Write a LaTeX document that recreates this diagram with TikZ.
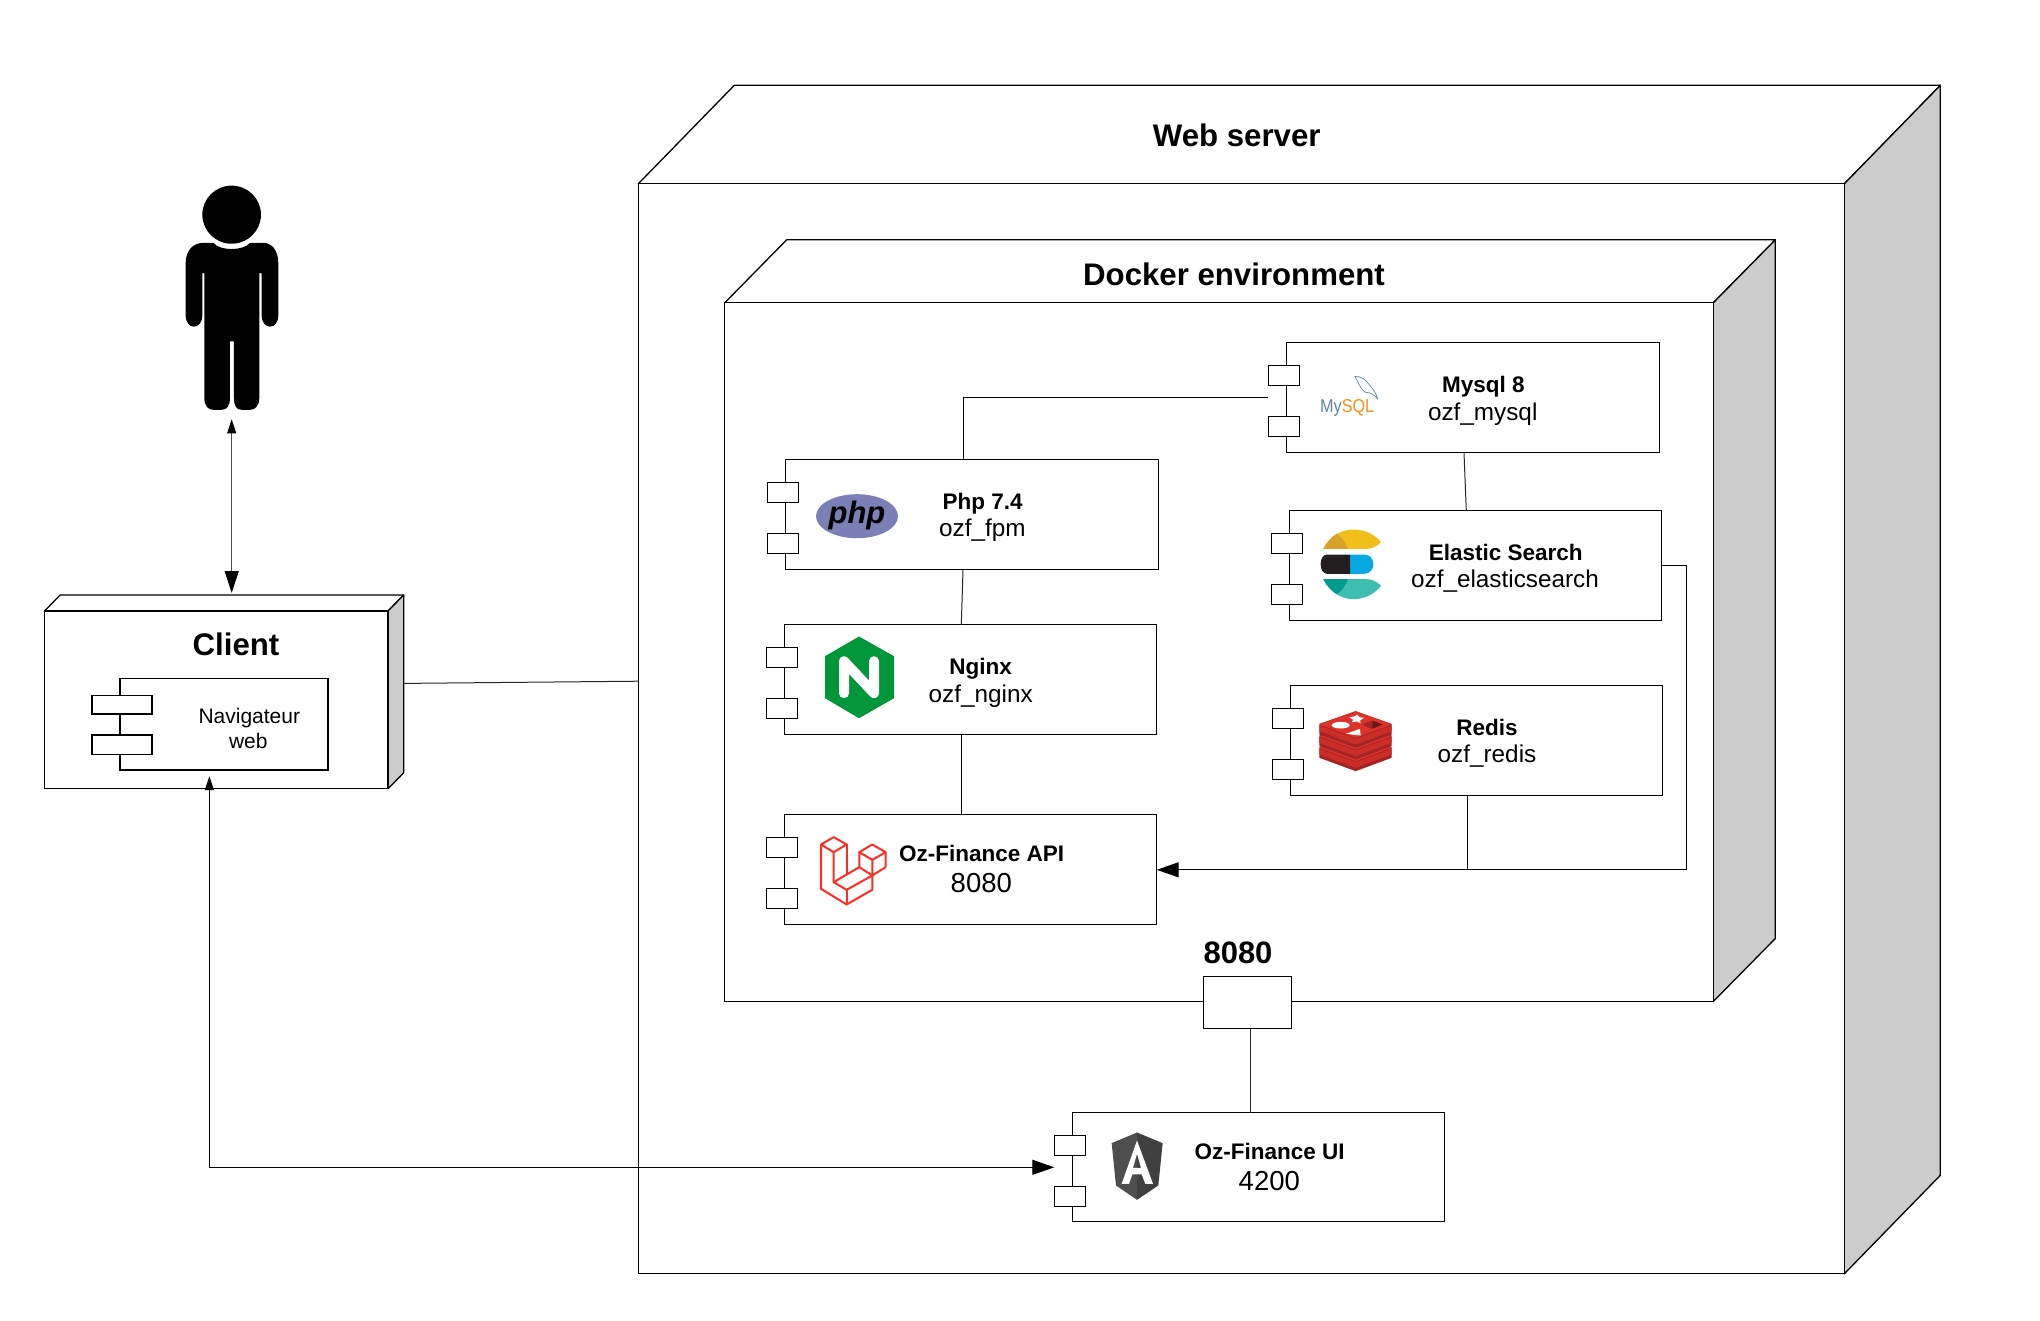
\documentclass[tikz,border=0pt]{standalone}
\usepackage{graphicx}
\usepackage{fontspec}
\setmainfont{Liberation Sans}
\usetikzlibrary{arrows.meta,calc}
\definecolor{sidegray}{HTML}{CCCCCC}
\definecolor{phpblue}{HTML}{7A80B5}
\definecolor{mysqlblue}{HTML}{5D87A1}
\definecolor{mysqlorange}{HTML}{F29111}
\definecolor{elyellow}{HTML}{F0BF1A}
\definecolor{eldyellow}{HTML}{D7A229}
\definecolor{elblack}{HTML}{231F20}
\definecolor{elblue}{HTML}{07A9E0}
\definecolor{elteal}{HTML}{3EBEB0}
\definecolor{eldteal}{HTML}{019B8F}
\definecolor{nginxgreen}{HTML}{009639}
\definecolor{laravelred}{HTML}{FF2D20}
\definecolor{redistop}{HTML}{DC3229}
\definecolor{redisdark}{HTML}{A32422}
\definecolor{angularl}{HTML}{4E4E4E}
\definecolor{angularr}{HTML}{404040}
\tikzset{
  lw/.style={line width=1.3pt},
  solidbox/.style={draw,lw,fill=white,inner sep=0pt,outer sep=0pt},
  face/.style={draw,lw,fill=white,line join=round},
  sideface/.style={draw,lw,fill=sidegray,line join=round},
  portbox/.style={solidbox,minimum width=31.4pt,minimum height=20pt},
  wire/.style={draw,lw},
  thinwire/.style={draw,line width=1pt,black!85},
  bigtip/.style={-{Triangle[length=22pt,width=15pt]}},
  txt/.style={anchor=base,inner sep=0pt,outer sep=0pt,text=black,yshift=0.3pt},
  title/.style={txt,font=\fontsize{31.2}{31}\selectfont\bfseries},
  cname/.style={txt,font=\fontsize{22.5}{24}\selectfont\bfseries},
  csub/.style={txt,font=\fontsize{24.3}{26}\selectfont},
  cport/.style={txt,font=\fontsize{27.5}{28}\selectfont},
  navtxt/.style={txt,font=\fontsize{21}{22}\selectfont},
  zoomframe/.style={shift={(#1)},x=0.3333pt,y=-0.3333pt},
  personframe/.style={shift={(#1)},x=0.3333pt,y=-0.4336pt}
}
% name, left, top, right, bottom, dx, dy
\newcommand\deployment[7]{%
  \fill[white] (#2,#3) -- ++(#6,-#7) -- (#4+#6,#3-#7) -- (#4+#6,#5-#7) -- (#4,#5) -- (#2,#5) -- cycle;
  \path[face] (#2,#3) -- (#2+#6,#3-#7) -- (#4+#6,#3-#7) -- (#4,#3) -- cycle;
  \path[sideface] (#4,#3) -- (#4+#6,#3-#7) -- (#4+#6,#5-#7) -- (#4,#5) -- cycle;
  \node[solidbox,minimum width={(#4-#2)*1pt},minimum height={(#5-#3)*1pt}] (#1) at ({(#2+#4)/2},{(#3+#5)/2}) {};
}
% name, left, top, right, bottom
\newcommand\component[5]{%
  \node[solidbox,minimum width={(#4-#2)*1pt},minimum height={(#5-#3)*1pt}] (#1) at ({(#2+#4)/2},{(#3+#5)/2}) {};
  \node[portbox] (#1pa) at ({#2-2.3},{#3+33}) {};
  \node[portbox] (#1pb) at ({#2-2.3},{#3+84}) {};
}
\begin{document}
\begin{tikzpicture}[x=1pt,y=-1pt]
\useasboundingbox (0,0) rectangle (2040,1320);
\fill[white] (0,0) rectangle (2040,1320);
\begin{scope}[shift={(0,0.5)}]

% deployment nodes
\deployment{web}{638.3}{183.3}{1844.3}{1273.3}{96}{98.5}
\deployment{docker}{724.7}{302.3}{1713.3}{1001}{62}{63}
\deployment{client}{44.5}{610.5}{388}{788.3}{15.7}{16}
\node[title] (webtitle) at (1236.7,146) {Web server};
\node[title] (dockertitle) at (1234,285.7) {Docker environment};
\node[title] (clienttitle) at (236,655.1) {Client};

% person
\begin{scope}[personframe={0,150}]
  \fill[black] (695,148) ellipse [x radius=88,y radius=67];
  \fill[black] (557,260) .. controls (557,230) and (580,213) .. (610,213) -- (640,213)
    .. controls (660,232) and (730,232) .. (750,213) -- (790,213)
    .. controls (815,213) and (835,230) .. (835,260) -- (835,380)
    .. controls (835,415) and (785,415) .. (785,380) -- (785,283) -- (778,283) -- (778,570)
    .. controls (778,590) and (765,598) .. (750,598) -- (725,598)
    .. controls (710,598) and (702,590) .. (702,570) -- (702,440) -- (690,440) -- (690,570)
    .. controls (690,590) and (680,598) .. (665,598) -- (640,598)
    .. controls (625,598) and (613,590) .. (613,570) -- (613,283) -- (607,283) -- (607,380)
    .. controls (607,415) and (557,415) .. (557,380) -- cycle;
\end{scope}
\coordinate (personfoot) at (231.7,418.8);

% navigateur component
\node[solidbox,line width=1.6pt,minimum width=207.7pt,minimum height=91.1pt] (navi) at (223.85,723.65) {};
\node[solidbox,line width=1.6pt,minimum width=59.7pt,minimum height=18.7pt] (navipa) at (121.85,704.35) {};
\node[solidbox,line width=1.6pt,minimum width=59.7pt,minimum height=19.5pt] (navipb) at (121.85,744.25) {};
\node[navtxt] (navione) at (249.3,723.2) {Navigateur};
\node[navtxt] (navitwo) at (248.3,748.4) {web};

% components
\component{php}{785.3}{459.3}{1158.3}{569.3}
\component{mysql}{1286.3}{342.3}{1659.3}{452.3}
\component{elastic}{1289.3}{510.3}{1661.7}{620.3}
\component{nginx}{784.3}{624.3}{1156.7}{734.3}
\component{api}{784.3}{814.3}{1156.7}{924.3}
\component{redis}{1290.3}{685.3}{1662.7}{795.3}
\component{ui}{1072.3}{1112.3}{1444.7}{1221.3}
\node[solidbox,minimum width=88pt,minimum height=52pt] (dockerport) at (1247.3,1002.3) {};
\node[txt,font=\fontsize{31}{31}\selectfont\bfseries] (dockerportlabel) at (1238,963.6) {8080};

% connectors
\path[wire] ([xshift=-8.5pt]php.north) |- (mysql.center -| mysqlpa.west);
\path[thinwire] ([xshift=-8.8pt]php.south) -- ([xshift=-9.2pt]nginx.north);
\path[wire] ([xshift=-9.2pt]nginx.south) -- ([xshift=-9.2pt]api.north);
\path[thinwire] ([xshift=-8.8pt]mysql.south) -- ([xshift=-9.2pt]elastic.north);
\coordinate (turn) at (1686.3,869.3);
\path[wire,bigtip] (elastic.east) -| (turn) -- (api.east);
\path[wire] ([xshift=-9.2pt]redis.south) -- ([xshift=-9.2pt]redis.south |- turn);
\path[thinwire] ([xshift=2.7pt]dockerport.south) -- ([xshift=-8.5pt]ui.north);
\coordinate (clientside) at (403.7,682.9);
\path[thinwire] (clientside) -- ([yshift=47.6pt]web.west);
\coordinate (clientroof) at (231.7,592.3);
\path[draw,line width=.9pt,black!70,{Triangle[length=14pt,width=9pt,black]}-{Triangle[length=21.7pt,width=14pt,black]}] (personfoot) -- (clientroof);
\path[wire,{Triangle[length=14pt,width=9pt]}-{Triangle[length=22pt,width=15pt]}]
  ([xshift=-14.5pt,yshift=-6.5pt]navi.south) |- (ui.center -| uipa.west);

% php
\fill[phpblue] (857,515.7) ellipse [x radius=41,y radius=22];
\node[anchor=center,inner sep=0pt,font=\fontsize{31}{31}\selectfont\bfseries\itshape] (phplogo) at (857,514.5) {php};
\node[cname] (phpname) at (982.7,509) {Php 7.4};
\node[csub] (phpsub) at (982.3,536.7) {ozf\_fpm};

% mysql
\node[anchor=base west,inner sep=0pt,font=\fontsize{18.6}{18}\selectfont] (mysqllogo) at (1320,411.7) {\scalebox{.87}[1]{\textcolor{mysqlblue}{My}\textcolor{mysqlorange}{SQL}}};
\draw[mysqlblue,line width=.7pt,line join=round] (1355,376) .. controls (1360,375) and (1367,380) .. (1369,384)
  .. controls (1373,388) and (1376,393) .. (1377.7,398.3) .. controls (1374,394) and (1371,392) .. (1365,391.7)
  .. controls (1360,388) and (1358,381) .. (1355,376) -- cycle;
\node[cname] (mysqlname) at (1483.3,392.7) {Mysql 8};
\node[csub] (mysqlsub) at (1482.7,420) {ozf\_mysql};

% elastic
\fill[elyellow] (1323.3,548.3) .. controls (1330,535) and (1342,529) .. (1353.3,529) .. controls (1366,529) and (1376,535) .. (1381,541.7) .. controls (1377,546) and (1372,548.3) .. (1367,548.3) -- cycle;
\fill[eldyellow] (1323.3,548.3) .. controls (1327,541) and (1332,536) .. (1336.7,533.3) .. controls (1342,537) and (1346,542) .. (1347.7,548.3) -- cycle;
\fill[elteal] (1323.3,578.7) .. controls (1330,592) and (1342,598.7) .. (1353.3,598.7) .. controls (1366,598.7) and (1376,592) .. (1381,585.3) .. controls (1377,581) and (1372,578.7) .. (1367,578.7) -- cycle;
\fill[eldteal] (1323.3,578.7) .. controls (1327,586) and (1332,591) .. (1336.7,593.7) .. controls (1342,590) and (1346,585) .. (1347.7,578.7) -- cycle;
\fill[elblue] (1350,554) -- (1364,554) .. controls (1376.5,554) and (1376.5,573.3) .. (1364,573.3) -- (1350,573.3) -- cycle;
\fill[elblack] (1350,554) -- (1327,554) .. controls (1318.5,554) and (1318.5,573.3) .. (1327,573.3) -- (1350,573.3) -- cycle;
\node[cname] (elasticname) at (1505.7,560.7) {Elastic Search};
\node[csub] (elasticsub) at (1505,587.7) {ozf\_elasticsearch};

% nginx
\fill[nginxgreen] (859,636) -- (894,655.7) -- (894,697.7) -- (859,717.7) -- (825,697.7) -- (825,655.7) -- cycle;
\draw[white,line width=10pt,line cap=round,line join=round] (844,692.7) -- (844,660.7) -- (874,692.7) -- (874,660.7);
\node[cname] (nginxname) at (980.7,674) {Nginx};
\node[csub] (nginxsub) at (980.7,702) {ozf\_nginx};

% laravel
\begin{scope}[zoomframe={740,620},draw=laravelred,line width=2pt,line join=round]
  \draw (243,672) -- (281,650) -- (320,672) -- (281,695) -- cycle;
  \draw (243,672) -- (243,805) -- (320,852) -- (397,808) -- (397,765);
  \draw (281,695) -- (281,785) -- (320,808) -- (397,765);
  \draw (320,672) -- (320,762);
  \draw (281,785) -- (358,740);
  \draw (358,695) -- (397,672) -- (437,695) -- (397,718) -- cycle;
  \draw (358,695) -- (358,740) -- (397,765);
  \draw (397,718) -- (397,765) -- (437,740) -- (437,695);
  \draw (320,808) -- (320,852);
\end{scope}
\node[cname] (apiname) at (981.7,861.7) {Oz-Finance API};
\node[cport] (apiport) at (981.3,892.3) {8080};

% redis
\begin{scope}[zoomframe={1240,660}]
  \foreach \d in {70,35,0} {
    \fill[redisdark] (238,{190+\d}) -- (347,{152+\d}) -- (455,{190+\d}) -- (455,{222+\d}) -- (347,{262+\d}) -- (238,{222+\d}) -- cycle;
    \fill[redistop!92!black] (238,{195+\d}) -- (347,{235+\d}) -- (455,{195+\d}) -- (455,{212+\d}) -- (347,{252+\d}) -- (238,{212+\d}) -- cycle;
    \fill[redistop] (238,{192+\d}) -- (347,{152+\d}) -- (455,{192+\d}) -- (347,{232+\d}) -- cycle;
  }
  \fill[white] (302,194) ellipse [x radius=27,y radius=10];
  \fill[white] (352,162) -- (358,170) -- (372,172) -- (360,180) -- (362,188) -- (350,183) -- (335,185) -- (340,178) -- (328,170) -- (343,168) -- cycle;
  \fill[white] (318,220) -- (360,205) -- (362,225) -- cycle;
  \fill[redisdark] (365,192) -- (397,180) -- (397,205) -- cycle;
  \fill[redisdark!65!black] (397,180) -- (428,192) -- (397,205) -- cycle;
\end{scope}
\node[cname] (redisname) at (1487,735) {Redis};
\node[csub] (redissub) at (1487,762.3) {ozf\_redis};

% angular
\begin{scope}[zoomframe={1040,920}]
  \fill[angularl] (291,636) -- (215,668) -- (228,795) -- (291,838) -- cycle;
  \fill[angularr] (291,636) -- (368,668) -- (355,795) -- (291,838) -- cycle;
  \fill[white,even odd rule] (291,660) -- (339,790) -- (316,790) -- (305,762) -- (277,762) -- (267,790) -- (245,790) -- cycle (291,700) -- (303,742) -- (279,742) -- cycle;
\end{scope}
\node[cname] (uiname) at (1269.7,1159.3) {Oz-Finance UI};
\node[cport] (uiport) at (1269.3,1190) {4200};
\end{scope}
\end{tikzpicture}
\end{document}
